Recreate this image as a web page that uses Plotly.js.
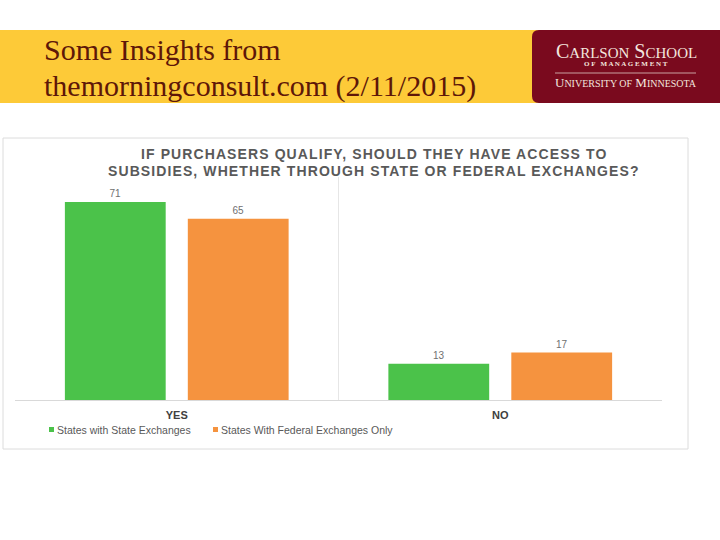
<!DOCTYPE html>
<html>
<head>
<meta charset="utf-8">
<script src="https://cdn.plot.ly/plotly-3.0.1.min.js"></script>
<style>
  html, body { margin: 0; padding: 0; background: #ffffff; }
  #chart { width: 720px; height: 540px; }
</style>
</head>
<body>
<div id="chart"></div>
<script>
// ---- Data ----
const categories = ['YES', 'NO'];
const seriesNames = ['States with State Exchanges', 'States With Federal Exchanges Only'];
const stateExchanges = [71, 13];
const federalExchanges = [65, 17];
const chartTitleLines = ['IF PURCHASERS QUALIFY, SHOULD THEY HAVE ACCESS TO', 'SUBSIDIES, WHETHER THROUGH STATE OR FEDERAL EXCHANGES?'];
const slideTitleLines = ['Some Insights from', 'themorningconsult.com (2/11/2015)'];

// ---- Helpers: pixel -> paper ----
const W = 720, H = 540;
const px = x => x / W;
const py = y => 1 - y / H;

const green = '#4bc24a';
const orange = '#f5933f';
const maroon = '#7a0a1e';
const sans = 'Liberation Sans, Arial, sans-serif';
const serif = 'Liberation Serif, Times New Roman, serif';

const traces = [
  {
    type: 'bar', name: seriesNames[0], x: categories, y: stateExchanges,
    marker: { color: green }, text: stateExchanges.map(String), textposition: 'outside',
    textfont: { family: sans, size: 10, color: '#707070' },
    cliponaxis: false, hoverinfo: 'skip', showlegend: false
  },
  {
    type: 'bar', name: seriesNames[1], x: categories, y: federalExchanges,
    marker: { color: orange }, text: federalExchanges.map(String), textposition: 'outside',
    textfont: { family: sans, size: 10, color: '#707070' },
    cliponaxis: false, hoverinfo: 'skip', showlegend: false
  }
];

// rounded-left box path for logo
const x0 = px(532), x1 = px(720), y0 = py(103), y1 = py(30);
const rx = 7 / W, ry = 7 / H;
const logoPath = `M ${x0 + rx},${y1} L ${x1},${y1} L ${x1},${y0} L ${x0 + rx},${y0} Q ${x0},${y0} ${x0},${y0 + ry} L ${x0},${y1 - ry} Q ${x0},${y1} ${x0 + rx},${y1} Z`;

const spaced = s => '<span style="letter-spacing:1.1px">' + s + '</span>';

const layout = {
  width: W, height: H, autosize: false,
  margin: { l: 0, r: 0, t: 0, b: 0, pad: 0 },
  paper_bgcolor: '#ffffff', plot_bgcolor: '#ffffff',
  font: { family: sans, color: '#595959' },
  barmode: 'group', bargap: 0.24, bargroupgap: 0.18,
  showlegend: false,
  xaxis: {
    domain: [px(15), px(662)],
    type: 'category', tickson: 'boundaries', showgrid: true, gridcolor: '#e6e6e6', gridwidth: 1,
    ticks: '', showline: true, linecolor: '#d9d9d9', linewidth: 1,
    tickfont: { size: 11, color: '#404040', family: sans, weight: 'bold' },
    ticklabelstandoff: 5, zeroline: false, fixedrange: true
  },
  yaxis: {
    domain: [py(400), py(177)], range: [0, 80],
    visible: false, showgrid: false, zeroline: false, fixedrange: true
  },
  shapes: [
    // yellow banner
    { type: 'rect', xref: 'paper', yref: 'paper', x0: 0, x1: px(540), y0: py(103), y1: py(30),
      fillcolor: '#fdca38', line: { width: 0 }, layer: 'below' },
    // logo box
    { type: 'path', xref: 'paper', yref: 'paper', path: logoPath,
      fillcolor: maroon, line: { width: 0 }, layer: 'below' },
    // logo divider
    { type: 'line', xref: 'paper', yref: 'paper', x0: px(555), x1: px(696), y0: py(73), y1: py(73),
      line: { color: '#c9a0a0', width: 1 } },
    // chart container border
    { type: 'rect', xref: 'paper', yref: 'paper', x0: px(3), x1: px(688), y0: py(449), y1: py(138),
      fillcolor: 'rgba(0,0,0,0)', line: { color: '#dcdcdc', width: 1 }, layer: 'below' },
    // legend swatches
    { type: 'rect', xref: 'paper', yref: 'paper', x0: px(49), x1: px(54), y0: py(432), y1: py(427),
      fillcolor: green, line: { width: 0 } },
    { type: 'rect', xref: 'paper', yref: 'paper', x0: px(213), x1: px(218), y0: py(432), y1: py(427),
      fillcolor: orange, line: { width: 0 } }
  ],
  annotations: [
    { xref: 'paper', yref: 'paper', x: px(42), y: py(50), xanchor: 'left', yanchor: 'middle',
      text: slideTitleLines[0], showarrow: false,
      font: { family: serif, size: 30, color: '#5e1708' } },
    { xref: 'paper', yref: 'paper', x: px(42), y: py(86), xanchor: 'left', yanchor: 'middle',
      text: slideTitleLines[1], showarrow: false,
      font: { family: serif, size: 30, color: '#5e1708' } },
    { xref: 'paper', yref: 'paper', x: px(626), y: py(51), xanchor: 'center', yanchor: 'middle',
      text: 'C<span style="font-size:15px">ARLSON</span> S<span style="font-size:15px">CHOOL</span>', showarrow: false,
      font: { family: serif, size: 20, color: '#f3e6df' } },
    { xref: 'paper', yref: 'paper', x: px(626), y: py(64), xanchor: 'center', yanchor: 'middle',
      text: '<b>O F   M A N A G E M E N T</b>', showarrow: false,
      font: { family: serif, size: 7, color: '#f3e6df' } },
    { xref: 'paper', yref: 'paper', x: px(626), y: py(83), xanchor: 'center', yanchor: 'middle',
      text: 'U<span style="font-size:10px">NIVERSITY OF</span> M<span style="font-size:10px">INNESOTA</span>', showarrow: false,
      font: { family: serif, size: 13, color: '#f3e6df' } },
    { xref: 'paper', yref: 'paper', x: px(374), y: py(154), xanchor: 'center', yanchor: 'middle',
      text: '<b>' + spaced(chartTitleLines[0]) + '</b>', showarrow: false,
      font: { family: sans, size: 14, color: '#595959' } },
    { xref: 'paper', yref: 'paper', x: px(374), y: py(171), xanchor: 'center', yanchor: 'middle',
      text: '<b>' + spaced(chartTitleLines[1]) + '</b>', showarrow: false,
      font: { family: sans, size: 14, color: '#595959' } },
    // legend labels
    { xref: 'paper', yref: 'paper', x: px(55), y: py(429.5), xanchor: 'left', yanchor: 'middle',
      text: seriesNames[0], showarrow: false, font: { family: sans, size: 10.5, color: '#595959' } },
    { xref: 'paper', yref: 'paper', x: px(219), y: py(429.5), xanchor: 'left', yanchor: 'middle',
      text: seriesNames[1], showarrow: false, font: { family: sans, size: 10.5, color: '#595959' } }
  ]
};

Plotly.newPlot('chart', traces, layout, { staticPlot: true, displayModeBar: false });
</script>
</body>
</html>
